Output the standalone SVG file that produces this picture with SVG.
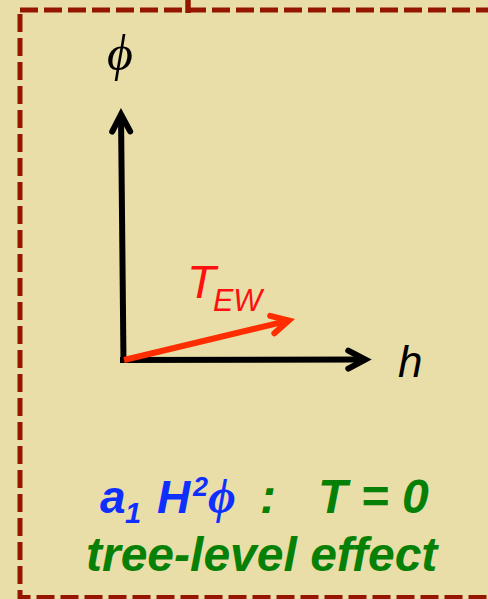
<svg xmlns="http://www.w3.org/2000/svg" width="488" height="599" viewBox="0 0 488 599">
  <style>
    .border { fill: none; stroke: #941600; stroke-width: 5; stroke-dasharray: 18 6; }
    .axis { fill: none; stroke: #000000; stroke-width: 6; }
    .vec { fill: none; stroke: #FF2D00; stroke-width: 6; }
    .sym { font-family: "Liberation Serif", "DejaVu Serif", serif; font-style: italic; fill: #000000; }
    .lbl { font-family: "Liberation Sans", Arial, "DejaVu Sans", sans-serif; font-style: italic; }
    .bold { font-weight: bold; }
    .blue { fill: #0F2FFF; }
    .green { fill: #068006; }
    .red { fill: #FF0F0F; }
  </style>
  <defs>
    <marker id="chev-black" markerUnits="userSpaceOnUse" orient="auto" overflow="visible" markerWidth="1" markerHeight="1" refX="0" refY="0">
      <path d="M-17,-9 L0,0 L-17,9" fill="none" stroke="#000000" stroke-width="6" stroke-linecap="round" stroke-linejoin="miter"/>
    </marker>
    <marker id="chev-red" markerUnits="userSpaceOnUse" orient="auto" overflow="visible" markerWidth="1" markerHeight="1" refX="0" refY="0">
      <path d="M-17,-9 L0,0 L-17,9" fill="none" stroke="#FF2D00" stroke-width="6" stroke-linecap="round" stroke-linejoin="miter"/>
    </marker>
  </defs>

  <rect x="0" y="0" width="488" height="599" fill="#E9DEA7"/>

  <g id="frame">
    <path class="border" d="M20,10 L488,10"/>
    <path class="border" d="M20,10 L20,597.5 L488,597.5" stroke-dashoffset="20"/>
    <line x1="188" y1="0" x2="188" y2="13" stroke="#941600" stroke-width="5.5"/>
  </g>

  <g id="connectors">
    <line id="phi-axis" class="axis" x1="123.5" y1="363" x2="121" y2="114.5" marker-end="url(#chev-black)"/>
    <line id="h-axis" class="axis" x1="120" y1="360" x2="365.3" y2="359.6" marker-end="url(#chev-black)"/>
    <line id="tew-vector" class="vec" x1="124" y1="360" x2="288.8" y2="320.6" marker-end="url(#chev-red)"/>
  </g>

  <g id="label-phi">
    <text class="sym" x="107" y="70" font-size="50">ϕ</text>
  </g>
  <g id="label-h">
    <text class="lbl" x="398" y="377" font-size="44" fill="#000000">h</text>
  </g>
  <g id="label-tew">
    <text class="lbl red" x="187" y="298" font-size="47">T</text>
    <text class="lbl red" x="213" y="311" font-size="30.5">EW</text>
  </g>

  <g id="caption">
    <text class="lbl bold blue" x="100" y="513" font-size="46">a</text>
    <text class="lbl bold blue" x="125" y="523" font-size="29">1</text>
    <text class="lbl bold blue" x="157" y="513" font-size="46">H</text>
    <text class="lbl bold blue" x="193" y="496" font-size="27">2</text>
    <text class="sym bold blue" x="208" y="513" font-size="48">ϕ</text>
    <text class="lbl bold green" x="260" y="513" font-size="48">:</text>
    <text class="lbl bold green" x="318" y="513" font-size="48" xml:space="preserve">T = 0</text>
    <text class="lbl bold green" x="86" y="571" font-size="48">tree-level effect</text>
  </g>
</svg>
